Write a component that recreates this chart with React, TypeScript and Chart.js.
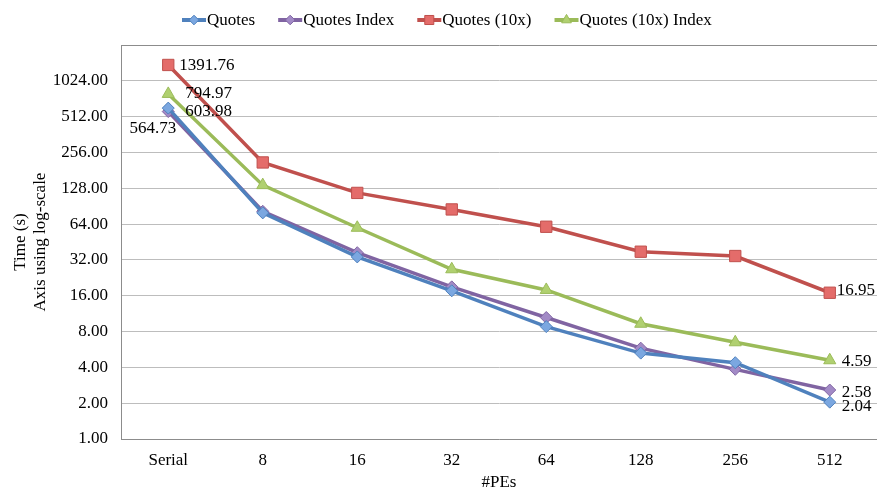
import React, { useEffect, useRef } from 'react';
import { Chart, registerables } from 'chart.js';

Chart.register(...registerables);

const categories = ['Serial', '8', '16', '32', '64', '128', '256', '512'];
const quotes = [603.98, 79.5, 33.9, 17.6, 8.8, 5.27, 4.38, 2.04];
const quotesIndex = [564.73, 82, 36.8, 19.0, 10.5, 5.8, 3.85, 2.58];
const quotes10x = [1391.76, 211, 117, 85, 60.8, 37.5, 34.5, 16.95];
const quotes10xIndex = [794.97, 136, 59.6, 26.7, 17.9, 9.3, 6.5, 4.59];
const yTicks = [1, 2, 4, 8, 16, 32, 64, 128, 256, 512, 1024, 2048];
const seriesNames = ['Quotes', 'Quotes Index', 'Quotes (10x)', 'Quotes (10x) Index'];

const FONT_FAMILY = '"Liberation Serif", "Times New Roman", serif';
const FONT = `17px ${FONT_FAMILY}`;

const styles = [
  { line: '#4F81BD', fill: '#7BA7E0', shape: 'rectRot', r: 6 },
  { line: '#8064A2', fill: '#A28AC6', shape: 'rectRot', r: 6 },
  { line: '#C0504D', fill: '#E46C6A', shape: 'rect', r: 8 },
  { line: '#9BBB59', fill: '#B0D070', shape: 'triangle', r: 7 },
];

// label placement (style): dataset, index, dx, dy, side
const labelSpecs = [
  { ds: 2, i: 0, dx: 11, dy: 1, side: 'right' },
  { ds: 3, i: 0, dx: 17, dy: 0, side: 'right' },
  { ds: 0, i: 0, dx: 17, dy: 3, side: 'right' },
  { ds: 1, i: 0, dx: 8, dy: 17, side: 'left' },
  { ds: 2, i: 7, dx: 12, dy: -2, side: 'right' },
  { ds: 3, i: 7, dx: 12, dy: 1, side: 'right' },
  { ds: 1, i: 7, dx: 12, dy: 3, side: 'right' },
  { ds: 0, i: 7, dx: 12, dy: 4, side: 'right' },
];

function drawMarker(ctx: CanvasRenderingContext2D, shape: string, x: number, y: number, r: number, fill: string, stroke: string) {
  ctx.beginPath();
  if (shape === 'rectRot') {
    ctx.moveTo(x - r, y);
    ctx.lineTo(x, y - r);
    ctx.lineTo(x + r, y);
    ctx.lineTo(x, y + r);
    ctx.closePath();
  } else if (shape === 'rect') {
    const s = r * Math.SQRT1_2;
    ctx.rect(x - s, y - s, 2 * s, 2 * s);
  } else {
    ctx.moveTo(x, y - r);
    ctx.lineTo(x + r * Math.sin(Math.PI / 3), y + r / 2);
    ctx.lineTo(x - r * Math.sin(Math.PI / 3), y + r / 2);
    ctx.closePath();
  }
  ctx.fillStyle = fill;
  ctx.fill();
  ctx.lineWidth = 1;
  ctx.strokeStyle = stroke;
  ctx.stroke();
}

const legendPlugin = {
  id: 'customLegend',
  afterDraw(chart: any) {
    const ctx: CanvasRenderingContext2D = chart.ctx;
    ctx.save();
    ctx.font = FONT;
    ctx.textBaseline = 'middle';
    ctx.textAlign = 'left';
    let x = 182;
    const y = 20;
    chart.data.datasets.forEach((ds: any, k: number) => {
      const st = styles[k];
      ctx.beginPath();
      ctx.strokeStyle = st.line;
      ctx.lineWidth = 4;
      ctx.moveTo(x, y);
      ctx.lineTo(x + 24, y);
      ctx.stroke();
      drawMarker(ctx, st.shape, x + 12, y, st.r * 0.8, st.fill, st.line);
      ctx.fillStyle = '#000';
      ctx.fillText(ds.label, x + 25, y + 1);
      x += 25 + ctx.measureText(ds.label).width + 23;
    });
    ctx.restore();
  },
};

const dataLabelPlugin = {
  id: 'dataLabels',
  afterDatasetsDraw(chart: any) {
    const ctx: CanvasRenderingContext2D = chart.ctx;
    ctx.save();
    ctx.font = FONT;
    ctx.textBaseline = 'middle';
    ctx.textAlign = 'left';
    ctx.fillStyle = '#000';
    labelSpecs.forEach((s) => {
      const pt = chart.getDatasetMeta(s.ds).data[s.i];
      const val = chart.data.datasets[s.ds].data[s.i] as number;
      const text = val.toFixed(2);
      const w = ctx.measureText(text).width;
      let x = s.side === 'right' ? pt.x + s.dx : pt.x + s.dx - w;
      if (x + w > chart.width - 2) x = chart.width - 2 - w;
      ctx.fillText(text, x, pt.y + s.dy);
    });
    ctx.restore();
  },
};

export default function App() {
  const ref = useRef<HTMLCanvasElement | null>(null);
  useEffect(() => {
    document.body.style.margin = '0';
    const seriesData = [quotes, quotesIndex, quotes10x, quotes10xIndex];
    const chart = new Chart(ref.current as HTMLCanvasElement, {
      type: 'line',
      data: {
        labels: categories,
        datasets: seriesData.map((d, k) => ({
          label: seriesNames[k],
          data: d,
          borderColor: styles[k].line,
          backgroundColor: styles[k].fill,
          borderWidth: 3.5,
          pointStyle: styles[k].shape as any,
          pointRadius: styles[k].r,
          pointBackgroundColor: styles[k].fill,
          pointBorderColor: styles[k].line,
          pointBorderWidth: 1,
          tension: 0,
          fill: false,
          clip: false as any,
        })),
      },
      options: {
        animation: false,
        responsive: false,
        maintainAspectRatio: false,
        layout: { autoPadding: false, padding: { top: 45, right: 0, bottom: 0, left: 0 } },
        plugins: {
          legend: { display: false },
          tooltip: { enabled: false },
        },
        scales: {
          x: {
            type: 'category',
            offset: true,
            grid: { display: false, drawTicks: false },
            border: { color: '#8C8C8C', width: 1 },
            ticks: { color: '#000', font: { family: FONT_FAMILY, size: 17 }, padding: 11, maxRotation: 0 },
            title: {
              display: true,
              text: '#PEs',
              color: '#000',
              font: { family: FONT_FAMILY, size: 17 },
              padding: { top: 0, bottom: 1 },
            },
            afterFit: (scale: any) => {
              scale.height = 55;
              scale.paddingLeft = 0;
              scale.paddingRight = 0;
            },
          },
          y: {
            type: 'logarithmic',
            min: 1,
            max: 2048,
            grid: {
              drawTicks: false,
              color: (c: any) => (c.tick && c.tick.value === 2048 ? '#8C8C8C' : '#BDBDBD'),
              lineWidth: 1,
            },
            border: { color: '#8C8C8C', width: 1 },
            ticks: {
              color: '#000',
              font: { family: FONT_FAMILY, size: 17 },
              padding: 13,
              autoSkip: false,
              callback: (v: any) => (Number(v) === 2048 ? '' : Number(v).toFixed(2)),
            },
            afterBuildTicks: (scale: any) => {
              scale.ticks = yTicks.map((v) => ({ value: v }));
            },
            title: {
              display: true,
              text: ['Time (s)', 'Axis using log-scale'],
              color: '#000',
              font: { family: FONT_FAMILY, size: 17, lineHeight: '20px' },
              padding: { top: 11, bottom: 0 },
            },
            afterFit: (scale: any) => {
              scale.width = 121;
              scale.paddingTop = 0;
              scale.paddingBottom = 0;
            },
          },
        },
      },
      plugins: [legendPlugin, dataLabelPlugin],
    });
    return () => chart.destroy();
  }, []);
  return (
    <div style={{ width: 877, height: 494 }}>
      <canvas ref={ref} width={877} height={494} />
    </div>
  );
}
